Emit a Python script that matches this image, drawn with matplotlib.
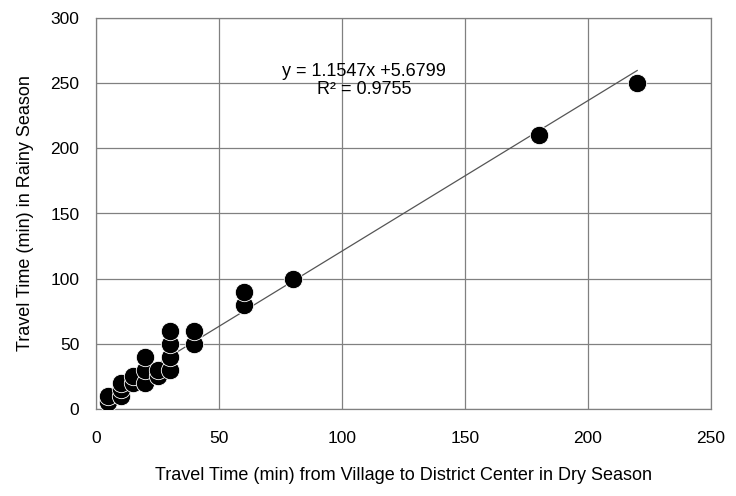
import matplotlib
matplotlib.use("Agg")
import matplotlib.pyplot as plt
import numpy as np

plt.rcParams["font.family"] = ["Liberation Sans Narrow", "Liberation Sans", "DejaVu Sans"]

# dry season vs rainy season travel time (min)
dry = [5, 5, 10, 10, 10, 15, 15, 20, 20, 20, 25, 25, 30, 30, 30, 30, 40, 40, 60, 60, 80, 180, 220]
rainy = [5, 10, 10, 15, 20, 20, 25, 20, 30, 40, 25, 30, 30, 40, 50, 60, 50, 60, 80, 90, 100, 210, 250]
slope, intercept = 1.1547, 5.6799
r2 = 0.9755

fig = plt.figure(figsize=(7.36, 4.96), dpi=100)
ax = fig.add_axes([96 / 736, 1 - 409 / 496, 615 / 736, 391 / 496])

ax.set_xlim(0, 250)
ax.set_ylim(0, 300)
ax.set_xticks(range(0, 251, 50))
ax.set_yticks(range(0, 301, 50))
ax.grid(True, color="#808080", linewidth=0.9)
ax.set_axisbelow(True)
for s in ax.spines.values():
    s.set_color("#808080")
    s.set_linewidth(0.9)
ax.tick_params(length=0, labelsize=12.5)
ax.tick_params(axis="x", pad=16)
ax.tick_params(axis="y", pad=12)

xs = np.array([min(dry), max(dry)])
ax.plot(xs, slope * xs + intercept, color="#555555", linewidth=0.9, zorder=2)
ax.scatter(dry, rainy, s=175, color="black", edgecolors="white", linewidths=0.6, zorder=3)

ax.text(109, 259, f"y = {slope}x +{intercept}", ha="center", va="center", fontsize=13)
ax.text(109, 245, f"R\u00b2 = {r2}", ha="center", va="center", fontsize=13)

ax.set_xlabel("Travel Time (min) from Village to District Center in Dry Season", fontsize=13, labelpad=15)
ax.set_ylabel("Travel Time (min) in Rainy Season", fontsize=13, labelpad=12)

fig.savefig("out.png", dpi=100)
